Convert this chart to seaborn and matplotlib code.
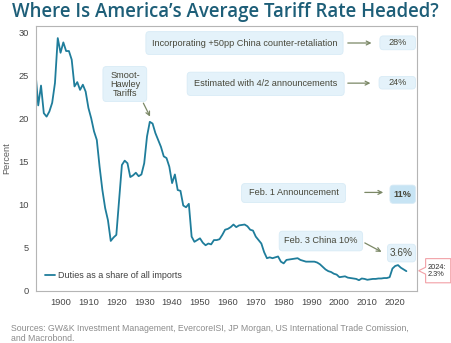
import matplotlib
matplotlib.use("Agg")
import matplotlib.pyplot as plt
from matplotlib.patches import FancyBboxPatch, Polygon
import numpy as np
import pandas as pd
import seaborn as sns

# Duties collected as a share of the value of all US imports, 1891-2024 (%)
years = list(range(1891, 2025))
duties_pct = [
    25.4, 21.5, 23.8, 20.6, 20.2, 20.8, 21.8, 24.1, 29.3,            # 1891-1899
    27.6, 28.8, 27.8, 27.8, 26.8, 23.7, 24.2, 23.3, 23.9, 23.1,      # 1900-1909
    21.2, 20.0, 18.5, 17.5, 14.4, 11.7, 9.6, 8.2, 5.8, 6.2,          # 1910-1919
    6.5, 10.5, 14.6, 15.1, 14.8, 13.2, 13.4, 13.7, 13.3, 13.5,       # 1920-1929
    14.8, 17.9, 19.6, 19.4, 18.3, 17.5, 16.7, 15.6, 15.4, 14.4,      # 1930-1939
    12.5, 13.5, 11.7, 11.6, 9.9, 9.7, 10.1, 6.3, 5.7, 5.9,           # 1940-1949
    6.1, 5.6, 5.3, 5.5, 5.4, 5.9, 5.9, 6.0, 6.5, 7.1,                # 1950-1959
    7.2, 7.4, 7.7, 7.4, 7.6, 7.65, 7.7, 7.5, 7.1, 7.0,               # 1960-1969
    6.3, 5.9, 5.5, 4.5, 3.8, 3.9, 3.8, 3.9, 4.0, 3.4,                # 1970-1979
    3.2, 3.6, 3.65, 3.7, 3.75, 3.8, 3.6, 3.5, 3.4, 3.4,              # 1980-1989
    3.4, 3.4, 3.3, 3.1, 2.8, 2.5, 2.3, 2.2, 2.0, 1.9,                # 1990-1999
    1.6, 1.65, 1.7, 1.55, 1.5, 1.45, 1.4, 1.25, 1.45, 1.4,           # 2000-2009
    1.3, 1.35, 1.4, 1.4, 1.45, 1.45, 1.5, 1.5, 1.6, 2.6,             # 2010-2019
    2.9, 3.0, 2.7, 2.5, 2.3,                                         # 2020-2024
]
series_label = "Duties as a share of all imports"

# Scenario estimates for the average tariff rate (%)
scenario_names = [
    "Incorporating +50pp China counter-retaliation",
    "Estimated with 4/2 announcements",
    "Feb. 1 Announcement",
    "Feb. 3 China 10%",
]
scenario_rates = [28, 24, 11, 3.6]

x_ticks = list(range(1900, 2021, 10))
y_ticks = [0, 5, 10, 15, 20, 25, 30]

title = "Where Is America\u2019s Average Tariff Rate Headed?"
source = ("Sources: GW&K Investment Management, EvercoreISI, JP Morgan, US International Trade Comission,\n"
          "and Macrobond.")

df = pd.DataFrame({"year": years, "pct": duties_pct, "series": series_label})

sns.set_style("white")
plt.rcParams["font.family"] = ["Liberation Sans", "DejaVu Sans"]

LINE = "#1f7d9b"
BOX = "#e4f2fa"
BOX_DARK = "#c7e4f4"
TXT = "#474739"
ARROW = "#7b8866"
TICK = "#5a5a5a"
FS = 6.6

fig = plt.figure(figsize=(4.52, 3.43), dpi=100)
ax = fig.add_axes([36 / 452, 1 - 291 / 343, (416.7 - 36) / 452, (291 - 26) / 343])

sns.lineplot(data=df, x="year", y="pct", hue="series", palette=[LINE],
             linewidth=1.3, ax=ax)

ax.set_xlim(1891.2, 2027.7)
ax.set_ylim(0, 30.7)
ax.set_xticks(x_ticks)
ax.set_yticks(y_ticks)
ax.set_xlabel("")
ax.set_ylabel("Percent", fontsize=6.6, color=TICK)
ax.yaxis.set_label_coords(-0.064, 0.5)
ax.tick_params(axis="both", labelsize=6.7, labelcolor="#474747", colors="#a0a0a0",
               length=3.5, width=0.8, pad=1.5)
for s in ax.spines.values():
    s.set_color("#b5b5b5")
    s.set_linewidth(0.8)

leg = ax.legend(loc="lower left", frameon=False, fontsize=6.5, handlelength=1.1,
                handletextpad=0.3, bbox_to_anchor=(0.01, 0.02), borderaxespad=0.2)
for t in leg.get_texts():
    t.set_color("#404040")


def box(x0, x1, y0, y1, fc=BOX, rad=1.2):
    p = FancyBboxPatch((x0, y0), x1 - x0, y1 - y0,
                       boxstyle=f"round,pad=0,rounding_size={rad}",
                       fc=fc, ec="#d8ebf6", lw=0.6, mutation_aspect=0.35,
                       clip_on=False, zorder=3, transform=ax.transData)
    ax.add_patch(p)


def arrow(x0, y0, x1, y1):
    ax.annotate("", xy=(x1, y1), xytext=(x0, y0),
                arrowprops=dict(arrowstyle="->", color=ARROW, lw=0.9,
                                shrinkA=0, shrinkB=0, mutation_scale=7),
                zorder=4)


def pct(v):
    return f"{v:g}%"


# Scenario call-outs on the right-hand side
box(1930.6, 2001.3, 27.4, 30.05)
ax.text(1965.9, 28.72, scenario_names[0], ha="center", va="center", fontsize=FS, color=TXT, zorder=5)
arrow(2003.0, 28.73, 2011.5, 28.73)
box(2014.5, 2027.3, 27.95, 29.55)
ax.text(2020.9, 28.76, pct(scenario_rates[0]), ha="center", va="center", fontsize=FS, color=TXT, zorder=5)

box(1945.4, 2001.7, 22.65, 25.35)
ax.text(1973.5, 24.0, scenario_names[1], ha="center", va="center", fontsize=FS, color=TXT, zorder=5)
arrow(2003.0, 24.08, 2011.1, 24.08)
box(2014.2, 2027.3, 23.4, 24.85)
ax.text(2020.8, 24.12, pct(scenario_rates[1]), ha="center", va="center", fontsize=FS, color=TXT, zorder=5)

box(1964.9, 2002.2, 10.25, 12.45)
ax.text(1983.6, 11.36, scenario_names[2], ha="center", va="center", fontsize=FS, color=TXT, zorder=5)
arrow(2009.1, 11.42, 2015.7, 11.42)
box(2018.1, 2027.3, 10.15, 12.27, fc=BOX_DARK)
ax.text(2022.7, 11.2, pct(scenario_rates[2]), ha="center", va="center", fontsize=FS,
        fontweight="bold", color=TXT, zorder=5)

box(1978.4, 2008.3, 4.65, 6.93)
ax.text(1993.4, 5.8, scenario_names[3], ha="center", va="center", fontsize=FS, color=TXT, zorder=5)
arrow(2009.1, 5.57, 2015.1, 4.53)
box(2017.2, 2027.3, 3.37, 5.42)
ax.text(2022.3, 4.4, pct(scenario_rates[3]), ha="center", va="center", fontsize=7.2, color=TXT, zorder=5)

# Smoot-Hawley note
box(1915.2, 1930.9, 21.95, 26.0)
ax.text(1923.1, 23.97, "Smoot-\nHawley\nTariffs", ha="center", va="center", fontsize=FS,
        color=TXT, linespacing=1.0, zorder=5)
arrow(1929.7, 21.76, 1932.1, 20.2)

# Latest observation tag outside the plot frame
last_year, last_val = years[-1], duties_pct[-1]
tag = Polygon([(2030.9, 0.95), (2039.9, 0.95), (2039.9, 3.75), (2030.9, 3.75),
               (2030.9, 2.75), (2028.4, 2.35), (2030.9, 1.95)],
              closed=True, fc="white", ec="#f2a0a6", lw=0.8, clip_on=False, zorder=5)
ax.add_patch(tag)
ax.text(2031.6, 2.35, f"{last_year}:\n{last_val:g}%", ha="left", va="center",
        fontsize=5.3, color="#303030", linespacing=1.0, clip_on=False, zorder=6)

fig.text(11.7 / 452, 1 - 16.7 / 343, title, ha="left", va="baseline",
         fontsize=13.4, color="#1d5e78", family=["Open Sans", "DejaVu Sans"], fontweight="semibold")
fig.text(11 / 452, 1 - 333.5 / 343, source, ha="left", va="center", fontsize=6.3,
         color="#8c8c8c", linespacing=1.25)

fig.savefig("out.png", dpi=100, facecolor="white")
